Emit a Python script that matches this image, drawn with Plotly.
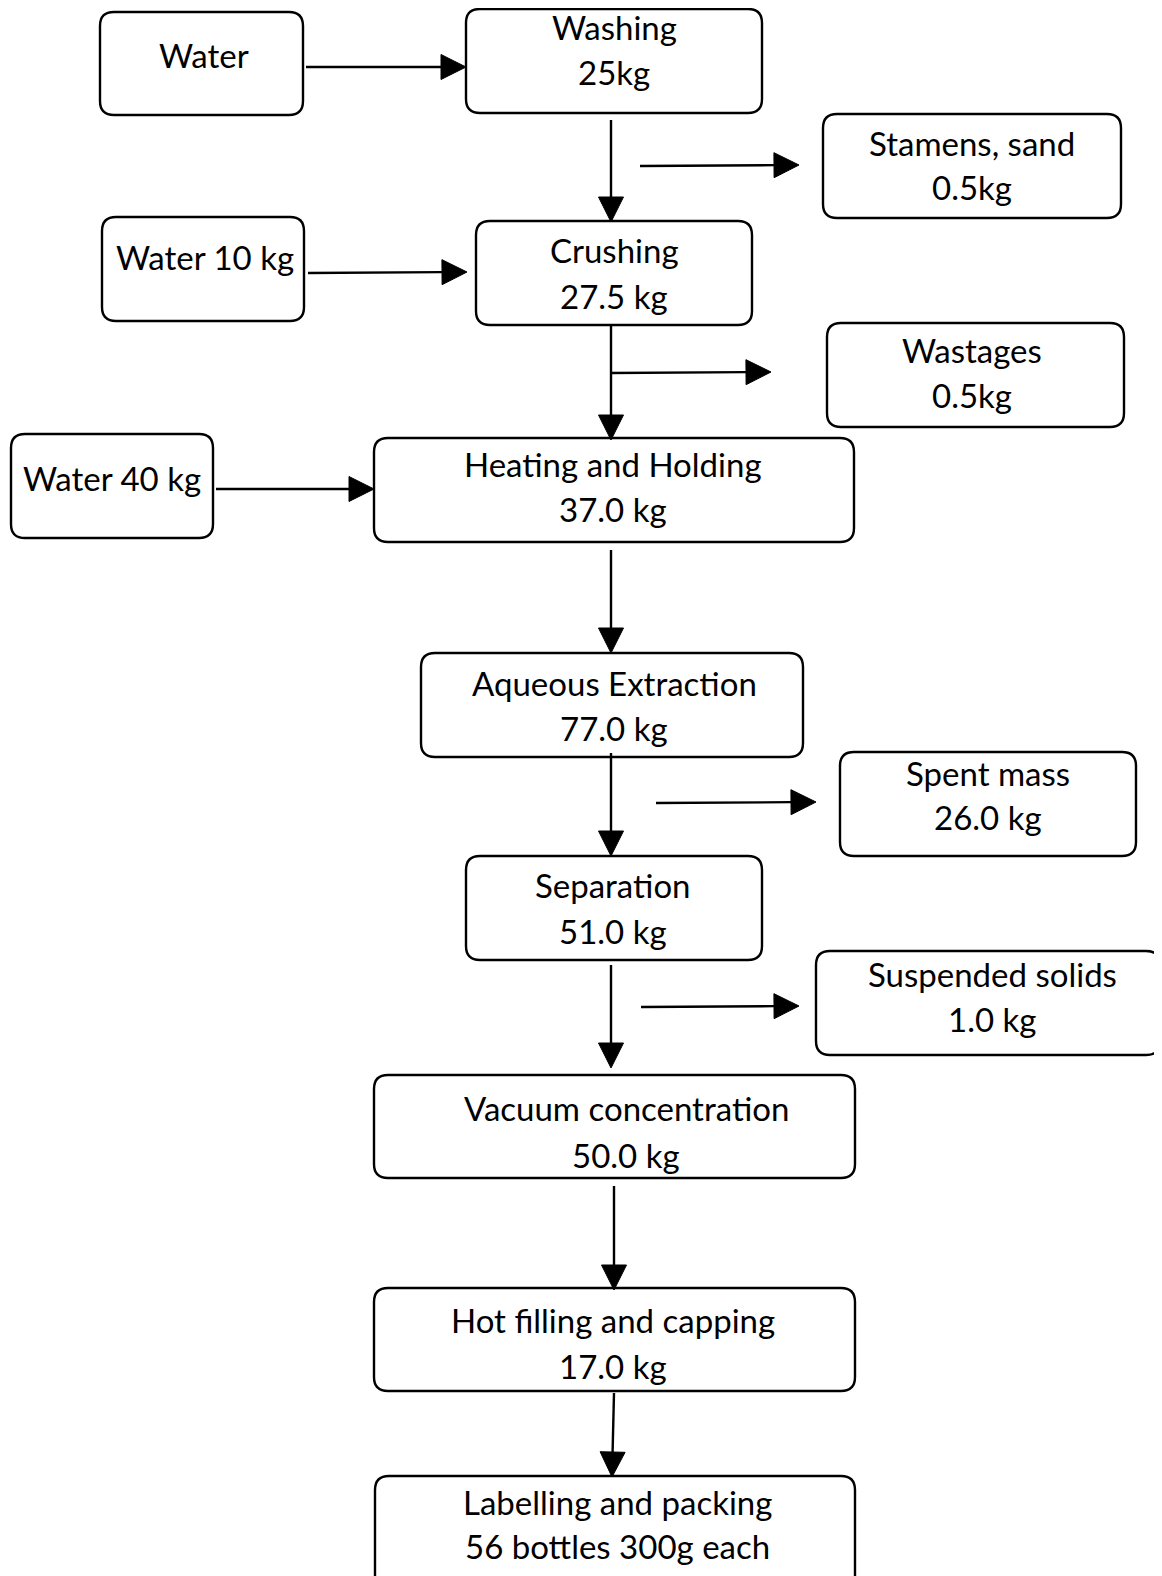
import plotly.graph_objects as go

# ---- content (text of each box) ----
box_line1 = ["Water", "Washing", "Stamens, sand", "Water 10 kg", "Crushing", "Wastages",
             "Water 40 kg", "Heating and Holding", "Aqueous Extraction", "Spent mass",
             "Separation", "Suspended solids", "Vacuum concentration",
             "Hot filling and capping", "Labelling and packing"]
box_line2 = ["", "25kg", "0.5kg", "", "27.5 kg", "0.5kg",
             "", "37.0 kg", "77.0 kg", "26.0 kg",
             "51.0 kg", "1.0 kg", "50.0 kg",
             "17.0 kg", "56 bottles 300g each"]

# ---- layout geometry (pixels, y downward) ----
box_x0 = [100, 466, 823, 102, 476, 827, 11, 374, 421, 840, 466, 816, 374, 374, 375]
box_x1 = [303, 762, 1121, 304, 752, 1124, 213, 854, 803, 1136, 762, 1160, 855, 855, 855]
box_y0 = [12, 9, 114, 217, 221, 323, 434, 438, 653, 752, 856, 951, 1075, 1288, 1476]
box_y1 = [115, 113, 218, 321, 325, 427, 538, 542, 757, 856, 960, 1055, 1178, 1391, 1600]
text_x = [204, 614, 972, 205, 614, 972, 112, 613, 614, 988, 613, 992, 626, 613, 617]
text_y1 = [55, 27, 143, 257, 250, 350, 478, 464, 683, 773, 885, 974, 1108, 1320, 1502]
text_y2 = [None, 72, 187, None, 296, 395, None, 509, 728, 817, 931, 1019, 1155, 1366, 1546]

arrow_tail = [(306, 67), (611, 120), (640, 166), (308, 273), (611, 325), (611, 373),
              (216, 489), (611, 550), (611, 753), (656, 803), (611, 965), (641, 1007),
              (614, 1186), (614, 1393)]
arrow_head = [(466, 67), (611, 222), (799, 165), (467, 272), (611, 440), (771, 372),
              (374, 489), (611, 653), (611, 856), (816, 802), (611, 1068), (799, 1006),
              (614, 1290), (612, 1477)]

W, H = 1162, 1576
PAD = 8  # default page body margin
R = 14
HEAD_LEN, HEAD_HALF = 25, 12.5
FONT = dict(family="Lato, Carlito, Calibri, sans-serif", size=33, color="#000000")

fig = go.Figure()
fig.add_trace(go.Scatter(x=[PAD, W], y=[PAD, H], mode="markers", marker=dict(opacity=0),
                         hoverinfo="skip", showlegend=False))

shapes = []
for x0, x1, y0, y1 in zip(box_x0, box_x1, box_y0, box_y1):
    path = (f"M {x0+R},{y0} L {x1-R},{y0} Q {x1},{y0} {x1},{y0+R} "
            f"L {x1},{y1-R} Q {x1},{y1} {x1-R},{y1} L {x0+R},{y1} "
            f"Q {x0},{y1} {x0},{y1-R} L {x0},{y0+R} Q {x0},{y0} {x0+R},{y0} Z")
    shapes.append(dict(type="path", path=path, xref="x", yref="y",
                       line=dict(color="black", width=2.4), fillcolor="white", layer="above"))

for (tx, ty), (hx, hy) in zip(arrow_tail, arrow_head):
    dx, dy = hx - tx, hy - ty
    L = (dx * dx + dy * dy) ** 0.5
    ux, uy = dx / L, dy / L
    bx, by = hx - ux * HEAD_LEN, hy - uy * HEAD_LEN
    px, py = -uy, ux
    shapes.append(dict(type="line", x0=tx, y0=ty, x1=bx, y1=by, xref="x", yref="y",
                       line=dict(color="black", width=2.4), layer="above"))
    tri = (f"M {hx},{hy} L {bx + px*HEAD_HALF},{by + py*HEAD_HALF} "
           f"L {bx - px*HEAD_HALF},{by - py*HEAD_HALF} Z")
    shapes.append(dict(type="path", path=tri, xref="x", yref="y",
                       line=dict(color="black", width=1), fillcolor="black", layer="above"))

annotations = []
for l1, l2, x, y1, y2 in zip(box_line1, box_line2, text_x, text_y1, text_y2):
    annotations.append(dict(x=x, y=y1, text=l1, showarrow=False, xref="x", yref="y",
                            xanchor="center", yanchor="middle", font=FONT))
    if l2:
        annotations.append(dict(x=x, y=y2, text=l2, showarrow=False, xref="x", yref="y",
                                xanchor="center", yanchor="middle", font=FONT))

fig.update_layout(
    width=W - PAD, height=H - PAD, margin=dict(l=0, r=0, t=0, b=0),
    paper_bgcolor="white", plot_bgcolor="white",
    xaxis=dict(range=[PAD, W], visible=False, fixedrange=True),
    yaxis=dict(range=[H, PAD], visible=False, fixedrange=True),
    shapes=shapes, annotations=annotations, showlegend=False,
)
fig.write_html("out.html")
